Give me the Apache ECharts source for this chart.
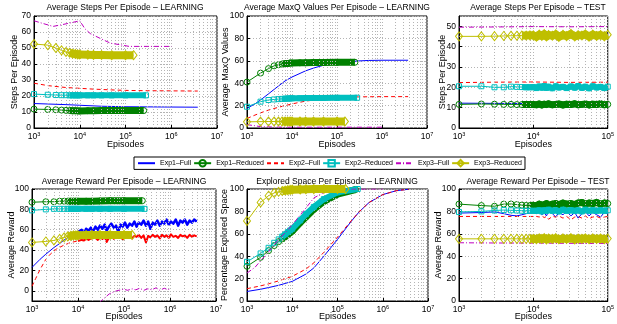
<!DOCTYPE html>
<html><head><meta charset="utf-8">
<script src="https://cdn.jsdelivr.net/npm/echarts@6/dist/echarts.min.js"></script>
<style>html,body{margin:0;padding:0;background:#fff}#c{width:617px;height:324px}</style>
</head><body><div id="c"></div><script>
// ---------------- names / labels ----------------
const SERIES_NAMES = ['Exp1–Full','Exp1–Reduced','Exp2–Full','Exp2–Reduced','Exp3–Full','Exp3–Reduced'];
const TITLES = ['Average Steps Per Episode – LEARNING','Average MaxQ Values Per Episode – LEARNING','Average Steps Per Episode – TEST',
  'Average Reward Per Episode – LEARNING','Explored Space Per Episode – LEARNING','Average Reward Per Episode – TEST'];
const Y_NAMES = ['Steps Per Episode','Average MaxQ Values','Steps Per Episode','Average Reward','Percentage Explored Space','Average Reward'];
const X_NAME = 'Episodes';
const MINOR_LONG = [2e3,3e3,4e3,5e3,6e3,7e3,8e3,9e3,2e4,3e4,4e4,5e4,6e4,7e4,8e4,9e4,2e5,3e5,4e5,5e5,6e5,7e5,8e5,9e5,2e6,3e6,4e6,5e6,6e6,7e6,8e6,9e6];
const MINOR_SHORT = [2e3,3e3,4e3,5e3,6e3,7e3,8e3,9e3,2e4,3e4,4e4,5e4,6e4,7e4,8e4,9e4];

// ---------------- episodes (x) ----------------
const X_R1 = [1000,2000,3000,4000,5000,6000,7000,8000,9000,10000,15000,20000,30000,50000,100000,250000];
const X_R2 = [1000,2000,3000,4000,5000,6000,7000,8000,9000,10000,15000,20000,30000,50000,100000,280000];
const X_R3 = [1000,2000,3000,4000,5000,6000,7000,8000,9000,10000,15000,20000,30000,50000,100000,150000];
const X_TEST = [1000,2000,3000,4000,5000,6000,7000,8000,9000,10000,11000,12000,13000,14000,15000,16000,18000,20000,22000,25000,28000,32000,36000,40000,45000,50000,56000,63000,71000,80000,90000,100000];
const X_TEST_FLAT = [1000,3000,10000,30000,100000];
const X_NOISE4 = [11000,12000,13500,15000,17000,19000,21000,24000,27000,30000,34000,38000,42000,47000,53000,60000,67000,75000,84000,94000,105000,118000,133000,150000,168000,188000,210000,237000,266000,300000,335000,375000,420000,470000,530000,600000,670000,750000,840000,940000,1050000,1180000,1330000,1500000,1680000,1880000,2100000,2370000,2660000,3000000,3350000,3800000];

// ---------------- Panel 1: steps, learning ----------------
const P1_E1F_X = [1e3,2e3,5e3,1e4,3e4,1e5,3e5,1e6,3.8e6];
const P1_E1F_Y = [15.3,15.0,14.6,14.2,13.6,13.3,13.2,13.1,13.0];
const P1_E1R_Y = [11.8,11.6,11.4,11.2,11.0,10.9,10.8,10.8,10.7,10.7,10.8,10.8,10.9,10.9,10.9,10.9];
const P1_E2F_X = [1e3,2e3,5e3,1e4,2e4,5e4,1e5,3e5,1e6,3.8e6];
const P1_E2F_Y = [28,26.5,25.3,24.8,24.3,23.8,23.5,23.3,23.2,23.1];
const P1_E2R_Y = [21.2,20.8,20.6,20.5,20.5,20.4,20.4,20.4,20.4,20.4,20.4,20.4,20.4,20.4,20.4,20.4];
const P1_E3F_X = [1e3,1.5e3,2.6e3,4e3,7e3,1e4,1.3e4,1.7e4,2.8e4,4.7e4,7.8e4,1.2e5,3e5,1e6];
const P1_E3F_Y = [67,65.5,63.5,64.5,66,67,62,59,56,53,52,51,51,51];
const P1_E3R_Y = [52.5,51.8,50,48.5,47.5,47,46.5,46.3,46,46,45.8,45.7,45.6,45.5,45.5,45.5];

// ---------------- Panel 2: MaxQ, learning ----------------
const P2_E1F_X = [1e3,1.5e3,2e3,3e3,5e3,7e3,1e4,2e4,3e4,5e4,1e5,2e5,5e5,1e6,3.8e6];
const P2_E1F_Y = [17.5,21.5,25,30.5,37.5,42,45.5,51,53.5,56,58.5,59.5,60.3,60.5,60.5];
const P2_E1R_Y = [41,49,53,55.5,56.5,57,57.5,57.5,58,58,58.2,58.3,58.5,58.5,58.6,58.7];
const P2_E2F_X = [1e3,1.5e3,2e3,3e3,5e3,1e4,2e4,5e4,1e5,3e5,1e6,3.8e6];
const P2_E2F_Y = [8.5,11.5,13.5,16,18.5,21.5,24,26,27,27.8,28,28];
const P2_E2R_Y = [19,23.5,25,25.5,25.8,26,26.2,26.3,26.4,26.5,26.6,26.7,26.8,26.8,26.9,27];
const P2_E3F_X = [1e3,1.5e3,2e3,5e3,1e4,1e5,1e6];
const P2_E3F_Y = [3,2,1.2,0.8,0.7,0.7,0.7];
const P2_E3R_Y = [5.5,5.7,5.8,5.8,5.8,5.8,5.8,5.8,5.8,5.8,5.8,5.8,5.8,5.8,5.8,5.8];

// ---------------- Panel 3: steps, test ----------------
const P3_E1F_Y = [12.2,12.1,12.0,12.1,12.0];
const P3_E1R_Y = [11.6,11.8,11.7,11.6,11.6,11.5,11.5,11.5,11.5,11.5,11.4,11.8,11.3,11.7,11.5,11.9,11.4,11.6,11.8,11.3,11.7,11.5,11.9,11.4,11.6,11.8,11.3,11.7,11.5,11.9,11.4,11.6];
const P3_E2F_Y = [22.3,22.5,22.6,22.4,22.5];
const P3_E2R_Y = [20.5,20.5,20.0,20.0,20.3,20.2,20.1,20.0,20.0,20.1,19.6,20.4,19.8,20.6,19.7,20.3,19.5,20.5,19.9,20.2,19.6,20.4,19.8,20.6,19.7,20.3,19.5,20.5,19.9,20.2,19.6,20.3];
const P3_E3F_Y = [49.5,49.6,49.8,49.7,49.8];
const P3_E3R_Y = [45.0,45.0,45.1,45.2,45.3,45.3,45.4,45.4,45.5,45.5,44.8,45.9,45.2,46.1,44.9,45.7,45.3,46.0,44.7,45.8,45.1,46.2,44.9,45.6,45.4,46.0,44.8,45.9,45.2,45.7,45.0,45.8];

// ---------------- Panel 4: reward, learning ----------------
const P4_E1F_X0 = [1e3,1.5e3,2e3,3e3,4e3,5e3,7e3,1e4];
const P4_E1F_Y0 = [23,31,36,42.5,46.5,50,54,58];
const P4_E1F_YN = [57,60,56,61,59,62,58,63,60,64,61,65,59,63,66,62,64,58,65,63,67,62,66,64,68,63,67,65,69,64,68,61,67,65,69,64,68,66,70,65,68,66,70,64,69,67,70,65,69,67,70,68];
const P4_E1R_Y = [87,87.5,87.5,88,88,88,88,88,88,88,88,88,88.2,88.5,88.5,88.5];
const P4_E2F_X0 = [1e3,1.2e3,1.5e3,2e3,2.5e3,3.4e3,5e3,7e3,1e4];
const P4_E2F_Y0 = [4.5,12,21,31,36,41,45,47.5,49];
const P4_E2F_YN = [49,50,49.5,51,50,51.5,50.5,52,50,52.5,51,53,48,52,53.5,51,54,52,53,50.5,54,52,55,51.5,54,53,55,52,54.5,47.5,54,52.5,55,53,54.5,51.5,55,53,54.5,52,55.5,53,54,52,55,53.5,54.5,52,55,53,54.5,53.5];
const P4_E2R_Y = [79,80,80.5,80.5,80.5,80.5,80.5,80.5,80.5,80.5,80.5,80.5,80.5,80.5,80.5,80.5];
const P4_E3F_X = [1e4,2e4,3e4,4e4,4.8e4,6.8e4,1e5,1.2e5,1.5e5,1.8e5,2.2e5,2.7e5,3.3e5,4e5,5e5,6e5,7.5e5,9e5,1e6];
const P4_E3F_Y = [-45,-22,-11,-6,-3,0,1.5,0.5,2,1,2.5,0.5,2,1,3,0.5,2.5,1,2];
const P4_E3R_Y = [47.5,48.5,49.5,51,52.5,53.5,54,54.5,54.5,54.5,54.7,54.8,54.8,54.8,54.8,54.8];

// ---------------- Panel 5: explored space, learning ----------------
const P5_FULL_X = [1e3,2e3,3e3,5e3,1e4,2e4,3e4,5e4,1e5,2e5,3e5,5e5,1e6,2e6,3.8e6];
const P5_E1F_Y = [8.5,10.5,12,14,17.5,24,29.5,40,55,71,79.5,88,95,98.5,99.8];
const P5_E1R_Y = [31,39,45,49.5,53,55.5,57.5,59.5,61,62.5,70,75,82,89,95.5,99.5];
const P5_E2F_Y = [11,13.5,15.3,18,22,28.5,34,43.5,57,71.5,79.5,88,95,98.5,99.8];
const P5_E2R_Y = [35,42.5,47.5,52,55,57.5,59.5,61.5,63,64.5,72,77.5,84,91,97,100];
const P5_E3F_X = [1e3,1.5e3,2e3,3e3,5e3,7e3,1e4,2e4,3e4,5e4,1e5,2e5,1e6];
const P5_E3F_Y = [25,30,36,44,55,61,68,83,92,97,99.5,100,100];
const P5_E3R_Y = [71.5,88,94,96.5,97.5,98.2,98.6,99,99.2,99.4,99.6,99.8,99.9,100,100,100];

// ---------------- Panel 6: reward, test ----------------
const P6_E1F_Y = [78.5,79,79.5,78,76.5,76,77,78,78.5,79,78,80,77,79,76,80,78,75,79,77,80,76,79,74,78,80,76,79,77,75,79,78];
const P6_E1R_Y = [86.5,85.2,84.6,86.5,86.6,86.1,85.6,85.3,85.2,85.4,85,86.5,85.5,86,87,85.5,86.5,87,86,87.5,86.5,87,86,87.5,88,86.5,87.5,87,88,86.5,87.5,87];
const P6_E2F_Y = [75.5,75.5,75.5,75.5,75.5,75.5,75.5,75.5,75.5,75.5,75.5,75,76,74.5,75.5,73,75.5,75,76,74,75.5,72.5,75,75.5,74,76,73.5,75,75.5,74,75,75.5];
const P6_E2R_Y = [79.5,80,80.8,81.2,81,80.8,80.6,80.5,80.6,80.5,80.5,81,80,81,80.5,81.5,80.5,81,80,81.5,80.5,81,80.5,81,80,81.5,80.5,81,80.5,81,80.5,81];
const P6_E3F_Y = [52,51.8,51.7,51.5,51.4];
const P6_E3R_Y = [55.5,55.5,55.5,55.5,55.5,55.5,55.5,55.5,55.5,55.5,55.2,56,55.4,56.2,55,55.8,55.5,56.1,55.1,55.9,55.3,56.2,55,55.7,55.5,56,55.2,55.9,55.4,55.8,55.1,55.7];

// ---------------- assembly ----------------
const zip = (xs, ys) => xs.map((x, i) => [x, ys[i]]);
const PANEL_DATA = [
  [zip(P1_E1F_X,P1_E1F_Y), zip(X_R1,P1_E1R_Y), zip(P1_E2F_X,P1_E2F_Y), zip(X_R2,P1_E2R_Y), zip(P1_E3F_X,P1_E3F_Y), zip(X_R3,P1_E3R_Y)],
  [zip(P2_E1F_X,P2_E1F_Y), zip(X_R1,P2_E1R_Y), zip(P2_E2F_X,P2_E2F_Y), zip(X_R2,P2_E2R_Y), zip(P2_E3F_X,P2_E3F_Y), zip(X_R3,P2_E3R_Y)],
  [zip(X_TEST_FLAT,P3_E1F_Y), zip(X_TEST,P3_E1R_Y), zip(X_TEST_FLAT,P3_E2F_Y), zip(X_TEST,P3_E2R_Y), zip(X_TEST_FLAT,P3_E3F_Y), zip(X_TEST,P3_E3R_Y)],
  [zip(P4_E1F_X0.concat(X_NOISE4),P4_E1F_Y0.concat(P4_E1F_YN)), zip(X_R1,P4_E1R_Y), zip(P4_E2F_X0.concat(X_NOISE4),P4_E2F_Y0.concat(P4_E2F_YN)), zip(X_R2,P4_E2R_Y), zip(P4_E3F_X,P4_E3F_Y), zip(X_R3,P4_E3R_Y)],
  [zip(P5_FULL_X,P5_E1F_Y), zip(X_R1,P5_E1R_Y), zip(P5_FULL_X,P5_E2F_Y), zip(X_R2,P5_E2R_Y), zip(P5_E3F_X,P5_E3F_Y), zip(X_R3,P5_E3R_Y)],
  [zip(X_TEST,P6_E1F_Y), zip(X_TEST,P6_E1R_Y), zip(X_TEST,P6_E2F_Y), zip(X_TEST,P6_E2R_Y), zip(X_TEST_FLAT,P6_E3F_Y), zip(X_TEST,P6_E3R_Y)]
];

// ---------------- styling / layout ----------------
const FONT = '"Liberation Sans", Arial, Helvetica, sans-serif';
const STY = [
  {color:'#0000ff', type:'solid', symbol:'none'},
  {color:'#008000', type:'solid', symbol:'circle', size:6, band:7},
  {color:'#ff0000', type:[4,3], symbol:'none'},
  {color:'#00bfbf', type:'solid', symbol:'rect', size:5, band:6},
  {color:'#bf00bf', type:[5,2,1,2], symbol:'none'},
  {color:'#bfbf00', type:'solid', symbol:'diamond', size:[7,9], band:8}
];
const PANELS = [
  {grid:{left:34,top:16,width:183,height:112}, xmax:1e7, ymin:0, ymax:70, step:10, yGap:14.5, xGap:12.5, minor:MINOR_LONG, bandFrom:6000, title:[125,3]},
  {grid:{left:247,top:16,width:180,height:112}, xmax:1e7, ymin:0, ymax:100, step:20, yGap:16.8, xGap:12.5, minor:MINOR_LONG, bandFrom:6000, title:[337,3]},
  {grid:{left:459,top:16,width:158,height:112}, xmax:1e5, ymin:0, ymax:55, step:10, yGap:12.2, xGap:12.5, minor:MINOR_SHORT, bandFrom:7000, title:[538,3]},
  {grid:{left:32,top:189,width:184,height:112}, xmax:1e7, ymin:-10, ymax:100, step:null, yGap:15.8, xGap:11.5, minor:MINOR_LONG, bandFrom:6000, title:[124,177], noiseBand:{0:2.5, 2:2}},
  {grid:{left:247,top:189,width:181,height:112}, xmax:1e7, ymin:0, ymax:100, step:20, yGap:17.5, xGap:11.5, minor:MINOR_LONG, bandFrom:6000, title:[337,177]},
  {grid:{left:459,top:189,width:158,height:112}, xmax:1e5, ymin:0, ymax:100, step:20, yGap:16.2, xGap:11.5, minor:MINOR_SHORT, bandFrom:9000, title:[538,177]}
];
const GRIDLINE = {color:'#b4b4b4', type:[1,2], width:1};

const option = {
  animation:false,
  backgroundColor:'#fff',
  textStyle:{fontFamily:FONT, color:'#000'},
  title: PANELS.map((p,i)=>({text:TITLES[i], left:p.title[0], top:p.title[1], textAlign:'center', padding:0,
    textStyle:{fontSize:8.5, fontWeight:'normal', color:'#000', fontFamily:FONT}})),
  legend:{data:SERIES_NAMES.map((n,k)=>STY[k].symbol==='none' ? {name:n, itemStyle:{opacity:0}} : {name:n}),
    left:134, top:157, orient:'horizontal', padding:[2,3,2,3], itemGap:2, itemWidth:17, itemHeight:8,
    borderColor:'#000', borderWidth:1, backgroundColor:'#fff', selectedMode:false,
    textStyle:{fontSize:7, color:'#000', fontFamily:FONT}},
  grid: PANELS.map(p=>Object.assign({show:true, borderColor:'#000', borderWidth:1, backgroundColor:'transparent', containLabel:false}, p.grid)),
  xAxis: PANELS.map((p,i)=>({gridIndex:i, type:'log', logBase:10, min:1000, max:p.xmax,
    axisLine:{show:true, onZero:false, lineStyle:{color:'#000'}},
    axisTick:{show:true, inside:true, length:3, lineStyle:{color:'#000'}},
    axisLabel:{color:'#000', margin:3, showMaxLabel:true, hideOverlap:false,
      formatter:v=>'{b|10}{e|'+Math.round(Math.log10(v))+'}',
      rich:{b:{fontSize:8.5, fontFamily:FONT, color:'#000', verticalAlign:'bottom', lineHeight:10}, e:{fontSize:5.5, fontFamily:FONT, color:'#000', verticalAlign:'top', lineHeight:10}}},
    splitLine:{show:true, lineStyle:GRIDLINE},
    name:X_NAME, nameLocation:'middle', nameGap:p.xGap, nameMoveOverlap:false,
    nameTextStyle:{fontSize:9, color:'#000', fontFamily:FONT}})),
  yAxis: PANELS.map((p,i)=>{
    const a = {gridIndex:i, type:'value', min:p.ymin, max:p.ymax,
      axisLine:{show:true, lineStyle:{color:'#000'}},
      axisTick:{show:true, inside:true, length:3, lineStyle:{color:'#000'}},
      axisLabel:{fontSize:8.5, color:'#000', margin:3, showMinLabel: p.ymin===0, showMaxLabel: p.ymax!==55, fontFamily:FONT},
      splitLine:{show:true, lineStyle:GRIDLINE},
      name:Y_NAMES[i], nameLocation:'middle', nameGap:p.yGap, nameRotate:90, nameMoveOverlap:false,
      nameTextStyle:{fontSize:9, color:'#000', fontFamily:FONT}};
    if (p.step) a.interval = p.step; else a.splitNumber = 5;
    return a;
  }),
  series: []
};

PANELS.forEach((p,i)=>{
  // minor (2..9) dotted grid lines of the log axis
  option.series.push({type:'line', name:'_minor'+i, xAxisIndex:i, yAxisIndex:i, data:[], silent:true,
    markLine:{silent:true, symbol:['none','none'], label:{show:false}, lineStyle:GRIDLINE, emphasis:{disabled:true},
      data:p.minor.map(v=>({xAxis:v}))}});
  PANEL_DATA[i].forEach((data,k)=>{
    const s = STY[k];
    const nb = p.noiseBand && p.noiseBand[k];
    if (s.band || nb) {
      option.series.push({type:'line', name:'_band', xAxisIndex:i, yAxisIndex:i, symbol:'none', silent:true,
        data:data.filter(d=>d[0]>=(nb ? 10000 : p.bandFrom)), lineStyle:{color:s.color, width:nb || s.band, cap:'butt', join:'round'},
        itemStyle:{color:s.color}, emphasis:{disabled:true}, z:2+k});
    }
    option.series.push({type:'line', name:SERIES_NAMES[k], xAxisIndex:i, yAxisIndex:i, data:data,
      symbol:s.symbol, symbolSize:s.size||4, showSymbol:s.symbol!=='none',
      lineStyle:{color:s.color, width:1, type:s.type},
      itemStyle:{color:'rgba(255,255,255,0)', borderColor:s.color, borderWidth:1, opacity:1},
      emphasis:{disabled:true}, z:2+k});
  });
});

const chart = echarts.init(document.getElementById('c'), null, {renderer:'canvas', width:617, height:324});
chart.setOption(option);
</script></body></html>
